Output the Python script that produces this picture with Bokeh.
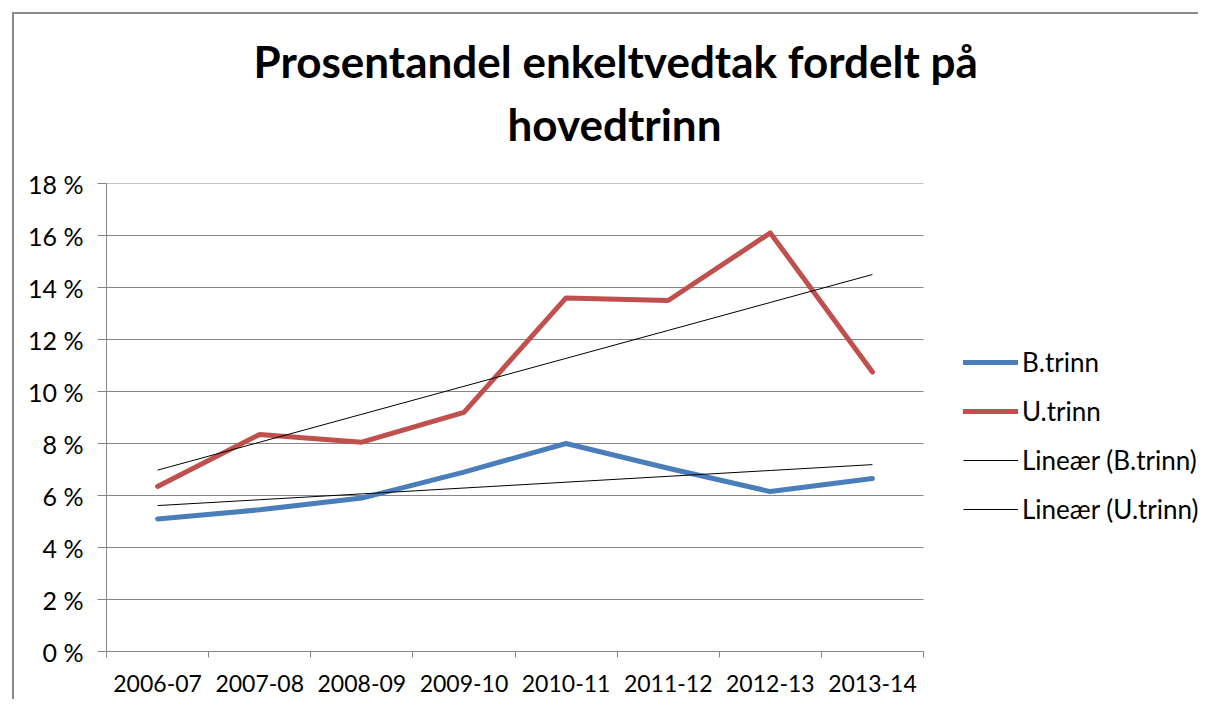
import numpy as np
from bokeh.plotting import figure
from bokeh.models import (Range1d, FixedTicker, PrintfTickFormatter, Legend,
                          LegendItem, Title)
from bokeh.embed import file_html
from bokeh.resources import INLINE

# ---- data ----
categories = ["2006-07", "2007-08", "2008-09", "2009-10",
              "2010-11", "2011-12", "2012-13", "2013-14"]
b_trinn = [5.1, 5.45, 5.9, 6.9, 8.0, 7.05, 6.15, 6.65]      # percent
u_trinn = [6.35, 8.35, 8.05, 9.2, 13.6, 13.5, 16.1, 10.75]  # percent
y_ticks = [0, 2, 4, 6, 8, 10, 12, 14, 16, 18]
title_lines = ["Prosentandel enkeltvedtak fordelt på", "hovedtrinn"]
series_names = ["B.trinn", "U.trinn"]
trend_names = ["Lineær (B.trinn)", "Lineær (U.trinn)"]

FONT = "Lato"
GRID = "#868686"
BLUE = "#4a7ebb"
RED = "#c0504d"

n = len(categories)
xc = np.arange(n) + 0.5

# layout (pixels)
W, H = 1186, 687
LEFT, TOP, BOTTOM = 92, 169, 50
CAT_PX = 817.0 / n                     # pixel width of one category
frame_w = W - LEFT                     # frame runs to the right edge (legend lives there)
x_end = frame_w / CAT_PX               # extra room to the right of the last category

p = figure(width=W, height=H,
           x_range=Range1d(0, x_end), y_range=Range1d(0, 18),
           output_backend="svg", toolbar_location=None,
           min_border_left=LEFT, min_border_right=0,
           min_border_top=TOP, min_border_bottom=BOTTOM)
p.styles = {"border-left": "2px solid #8a8a8a", "border-top": "2px solid #8a8a8a"}
p.margin = (12, 0, 0, 12)
p.outline_line_color = None
p.background_fill_color = "white"
p.border_fill_color = "white"

# x axis: labels centred in categories, tick marks between them
p.xaxis.bounds = (0, n)
p.xaxis.ticker = FixedTicker(ticks=list(xc), minor_ticks=list(range(0, n + 1)))
p.xaxis.major_label_overrides = {float(v): c for v, c in zip(xc, categories)}
p.xaxis.major_tick_out = 0
p.xaxis.major_tick_in = 0
p.xaxis.minor_tick_out = 6
p.xaxis.minor_tick_in = 0
p.xaxis.minor_tick_line_color = GRID
p.xaxis.axis_line_color = GRID
p.xaxis.major_label_standoff = 17
p.xaxis.major_label_text_font_size = "23px"
p.xgrid.visible = False

p.yaxis.ticker = FixedTicker(ticks=y_ticks)
p.yaxis.formatter = PrintfTickFormatter(format="%d %%")
p.yaxis.major_tick_out = 9
p.yaxis.major_tick_in = 0
p.yaxis.minor_tick_out = 0
p.yaxis.minor_tick_in = 0
p.yaxis.major_tick_line_color = GRID
p.yaxis.axis_line_color = GRID
p.yaxis.major_label_standoff = 14
p.yaxis.major_label_text_font_size = "25px"
p.ygrid.visible = False

for ax in (p.xaxis, p.yaxis):
    ax.major_label_text_font = FONT
    ax.major_label_text_color = "black"

# horizontal gridlines only across the category area
p.segment(x0=[0] * len(y_ticks), x1=[n] * len(y_ticks), y0=y_ticks, y1=y_ticks,
          line_color=GRID, line_width=1)

# series
rb = p.line(xc, b_trinn, line_color=BLUE, line_width=5, line_join="round", line_cap="round")
ru = p.line(xc, u_trinn, line_color=RED, line_width=5, line_join="round", line_cap="round")

# linear trend lines (least squares, as Excel's "Lineær")
idx = np.arange(n)
trend_renderers = []
for vals in (b_trinn, u_trinn):
    k, m = np.polyfit(idx, vals, 1)
    r = p.line(xc, k * idx + m, line_color="black", line_width=1)
    trend_renderers.append(r)

legend = Legend(items=[
    LegendItem(label=series_names[0], renderers=[rb]),
    LegendItem(label=series_names[1], renderers=[ru]),
    LegendItem(label=trend_names[0], renderers=[trend_renderers[0]]),
    LegendItem(label=trend_names[1], renderers=[trend_renderers[1]]),
], location=(857, 126))
legend.label_text_font = FONT
legend.label_text_font_size = "26px"
legend.label_text_color = "black"
legend.glyph_width = 55
legend.glyph_height = 20
legend.label_height = 20
legend.spacing = 17
legend.label_standoff = 4
legend.padding = 0
legend.margin = 0
legend.border_line_color = None
legend.background_fill_alpha = 0
p.add_layout(legend)

# title (two lines); first added sits closest to the frame
p.add_layout(Title(text=title_lines[1], align="left", offset=401, text_font=FONT,
                   text_font_style="bold", text_font_size="44px", text_color="black",
                   standoff=68), "above")
p.add_layout(Title(text=title_lines[0], align="left", offset=147, text_font=FONT,
                   text_font_style="bold", text_font_size="44px", text_color="black",
                   standoff=-50), "above")

open("out.html", "w").write(file_html(p, INLINE))
